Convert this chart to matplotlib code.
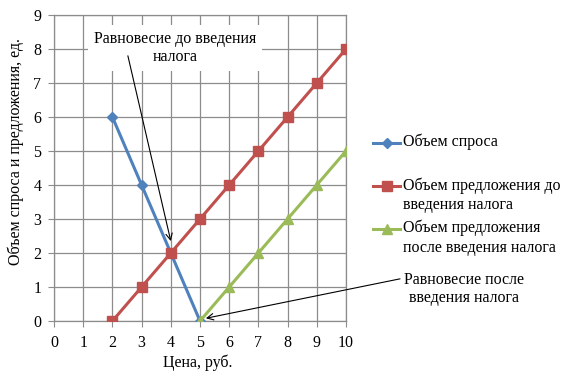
import matplotlib
matplotlib.use('Agg')
import matplotlib.pyplot as plt
from matplotlib.lines import Line2D

plt.rcParams['font.family'] = ['Liberation Serif', 'DejaVu Serif']
plt.rcParams['font.size'] = 11.5

# data
demand_x = [2, 3, 4, 5]
demand_y = [6, 4, 2, 0]
supply_x = [2, 3, 4, 5, 6, 7, 8, 9, 10]
supply_y = [0, 1, 2, 3, 4, 5, 6, 7, 8]
supply_tax_x = [5, 6, 7, 8, 9, 10]
supply_tax_y = [0, 1, 2, 3, 4, 5]
labels = ['Объем спроса',
          'Объем предложения до\nвведения налога',
          'Объем предложения\nпосле введения налога']

blue = '#4F81BD'
red = '#C0504D'
green = '#9BBB59'
gridc = '#8c8c8c'

fig = plt.figure(figsize=(5.71, 3.81), dpi=100)
ax = fig.add_axes([54/571, 1-321/381, 292/571, 306/381])

ax.plot(demand_x, demand_y, color=blue, lw=2.2, marker='D', ms=5, zorder=3)
ax.plot(supply_x, supply_y, color=red, lw=2.2, marker='s', ms=6.5, zorder=3)
ax.plot(supply_tax_x, supply_tax_y, color=green, lw=2.2, marker='^', ms=7, zorder=3)

ax.set_xlim(0, 10)
ax.set_ylim(0, 9)
ax.set_xticks(range(0, 11))
ax.set_yticks(range(0, 10))
ax.grid(True, color=gridc, lw=0.9)
ax.set_axisbelow(True)
for s in ax.spines.values():
    s.set_color(gridc)
    s.set_linewidth(0.9)
ax.tick_params(length=4, color=gridc, labelsize=11.5)
ax.tick_params(axis='x', pad=6)
ax.tick_params(axis='y', pad=5)
ax.set_xlabel('Цена, руб.', fontsize=11.5)
ax.set_ylabel('Объем спроса и предложения, ед.', fontsize=11.5)
ax.xaxis.set_label_coords((198-54)/292, -(363-321)/306)
ax.yaxis.set_label_coords(-(54-16)/292, (321-152)/306)
ax.xaxis.label.set_va('center')
ax.yaxis.label.set_va('center')

# annotation before tax
ax.text(4.14, 8.03, 'Равновесие до введения\nналога', ha='center', va='center',
        fontsize=11.5, linespacing=1.2, zorder=4,
        bbox=dict(facecolor='white', edgecolor='none', pad=4))
ax.annotate('', xy=(4.0, 2.35), xytext=(2.53, 7.8), zorder=5,
            arrowprops=dict(arrowstyle='->', color='black', lw=0.8,
                            shrinkA=0, shrinkB=0))

# annotation after tax
ax.annotate('', xy=(5.2, 0.08), xytext=(11.85, 1.24), annotation_clip=False,
            arrowprops=dict(arrowstyle='->', color='black', lw=0.8,
                            shrinkA=0, shrinkB=0))
fig.text(464/571, 1-289/381, 'Равновесие после\nвведения налога', ha='center',
         va='center', fontsize=11.5, linespacing=1.2)

# legend
handles = [(blue, 'D', 5), (red, 's', 6.5), (green, '^', 7)]
ys = [143, 186, 229]
for (c, m, ms), lab, y in zip(handles, labels, ys):
    yf = 1 - y/381
    fig.add_artist(Line2D([373/571, 400/571], [yf, yf], color=c, lw=2.2))
    fig.add_artist(Line2D([386.5/571], [yf], color=c, marker=m, ms=ms))
    fig.text(403/571, yf + 9/381, lab, ha='left', va='top', fontsize=11.5,
             linespacing=1.25)

fig.savefig('out.png', dpi=100)
